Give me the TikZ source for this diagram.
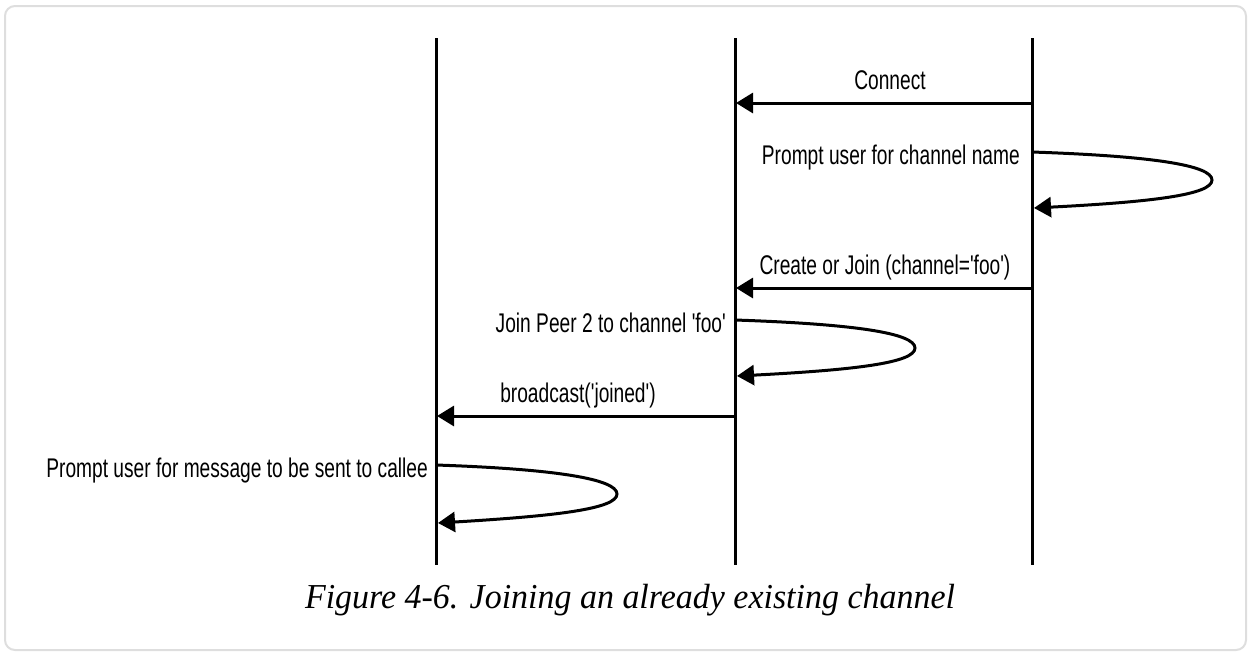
\documentclass[tikz,border=0pt]{standalone}
\usepackage{fontspec}
\usetikzlibrary{arrows.meta}
\newfontfamily\lblfont[FakeStretch=0.71]{Liberation Sans}
\newfontfamily\capfont[FakeStretch=0.97]{Liberation Serif}
\tikzset{
  lifeline/.style={line width=3pt, black},
  msg/.style={line width=3pt, black, -{Triangle[length=17pt,width=20pt]}},
  lbl/.style={font=\lblfont\fontsize{27}{31}\selectfont, inner sep=0pt},
}
\begin{document}
\begin{tikzpicture}[x=1pt,y=-1pt]
\useasboundingbox (0,0) rectangle (1250,654);
\draw[line width=2pt, color=black!13, rounded corners=10pt] (5,6) rectangle (1246,650);
% lifelines
\coordinate (a0) at (436,38); \coordinate (a1) at (436,565);
\coordinate (b0) at (735,38); \coordinate (b1) at (735,565);
\coordinate (c0) at (1032,38); \coordinate (c1) at (1032,565);
\draw[lifeline] (a0) -- (a1);
\draw[lifeline] (b0) -- (b1);
\draw[lifeline] (c0) -- (c1);
% Connect
\coordinate (m1s) at (1032,103); \coordinate (m1e) at (736,103);
\draw[msg] (m1s) -- (m1e);
\node[lbl, anchor=base] (t1) at (890,89) {Connect};
% self loop right
\coordinate (l1s) at (1032,152); \coordinate (l1e) at (1034,208);
\draw[msg] (l1s) .. controls (1150,156) and (1212,165) .. (1212,180) .. controls (1212,195) and (1150,202) .. (l1e);
\node[lbl, anchor=base east] (t2) at (1020,164) {Prompt user for channel name};
% create or join
\coordinate (m2s) at (1032,288); \coordinate (m2e) at (736,288);
\draw[msg] (m2s) -- (m2e);
\node[lbl, anchor=base] (t3) at (885,274) {Create or Join (channel='foo')};
% self loop middle
\coordinate (l2s) at (735,320); \coordinate (l2e) at (737,376);
\draw[msg] (l2s) .. controls (853,324) and (915,333) .. (915,348) .. controls (915,363) and (853,370) .. (l2e);
\node[lbl, anchor=base east] (t4) at (726,332) {Join Peer 2 to channel 'foo'};
% broadcast
\coordinate (m3s) at (735,416); \coordinate (m3e) at (437,416);
\draw[msg] (m3s) -- (m3e);
\node[lbl, anchor=base] (t5) at (578,402) {broadcast('joined')};
% self loop left
\coordinate (l3s) at (436,465); \coordinate (l3e) at (438,523);
\draw[msg] (l3s) .. controls (555,469) and (617,479) .. (617,494) .. controls (617,509) and (555,516) .. (l3e);
\node[lbl, anchor=base east] (t6) at (428,477) {Prompt user for message to be sent to callee};
% caption
\node[font=\capfont\itshape\fontsize{35}{40}\selectfont, anchor=base, inner sep=0pt] (cap) at (630,608) {Figure 4-6. Joining an already existing channel};
\end{tikzpicture}
\end{document}
